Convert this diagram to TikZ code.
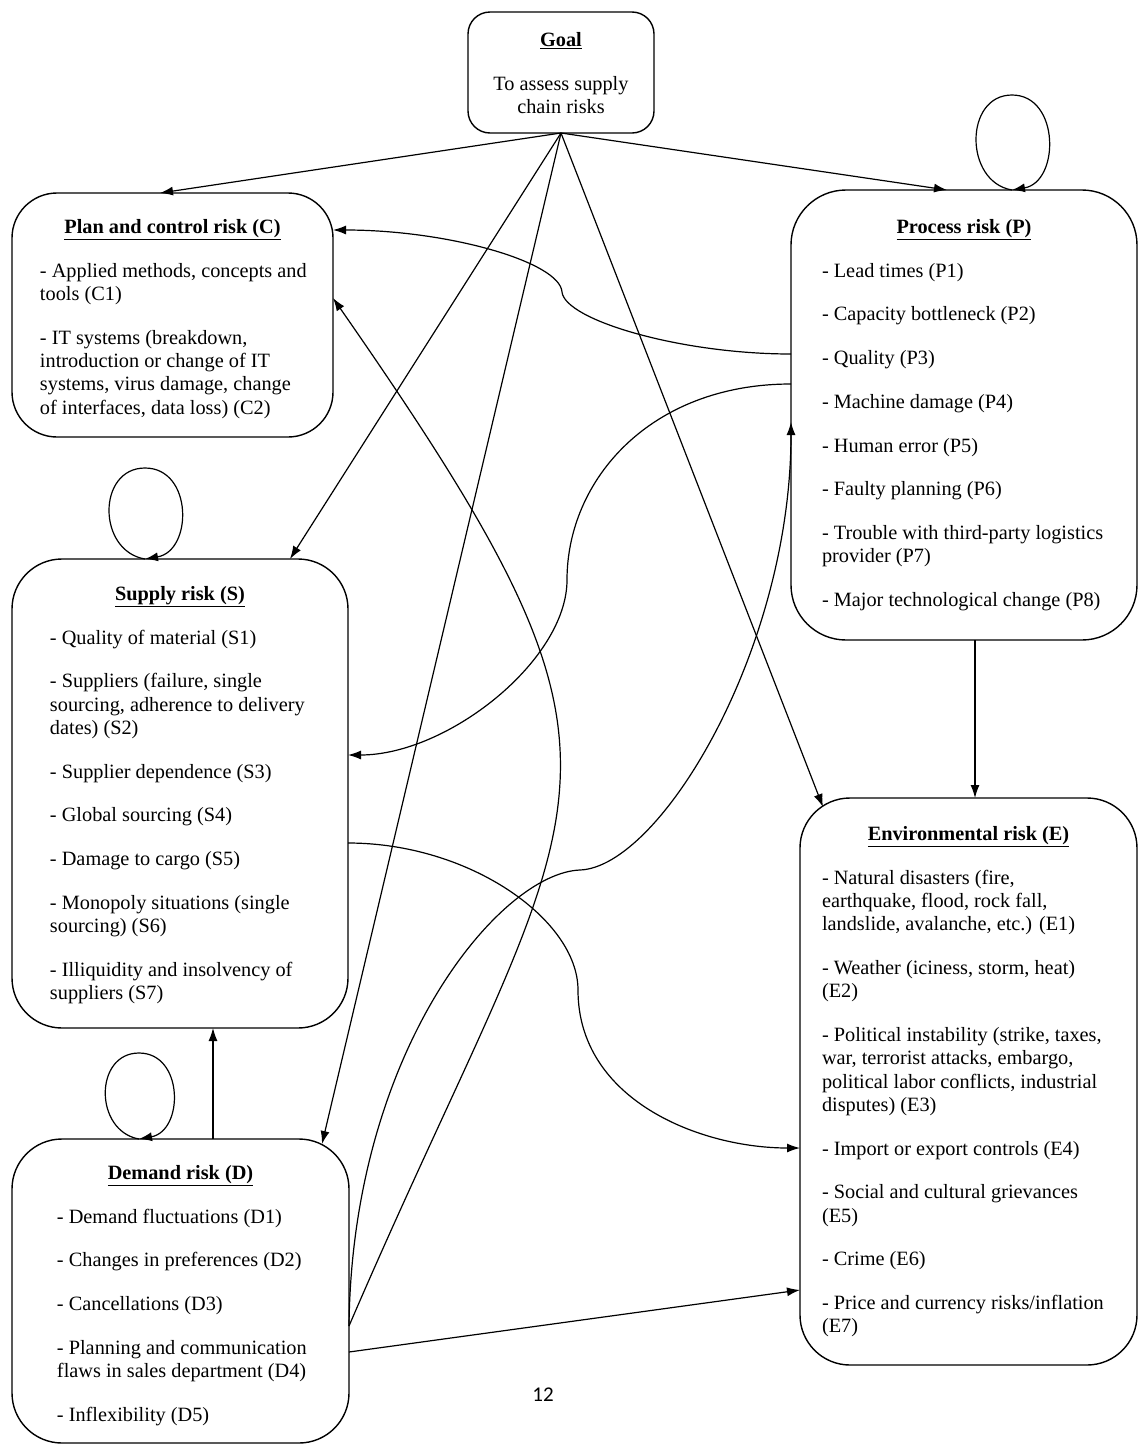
\documentclass[tikz,border=0pt]{standalone}
\usepackage{fontspec}
\setmainfont{Liberation Serif}
\newfontfamily\pagefont{Carlito}
\usetikzlibrary{arrows.meta,calc,positioning}

% box text: width, height, title baseline, left indent, title, items
\newcommand{\riskitems}[6]{%
  \vbox to #2{\hsize=#1\relax
    \vskip\dimexpr#3-\ht\strutbox\relax
    {\centering\strut\textbf{\underline{#5}}\par}
    \parskip=20.4pt\relax
    \raggedright\leftskip=#4\relax
    #6\par
    \vfil}}

\begin{document}
\begin{tikzpicture}[x=1pt, y=-1pt,
    riskbox/.style={draw, line width=1.4pt, rounded corners=50pt, inner sep=0pt, outer sep=0pt,
                    anchor=north west, font=\fontsize{20.3}{23.3}\selectfont},
    link/.style={-{Latex[length=13pt,width=9pt]}, line width=1.2pt}]

  \useasboundingbox (0,0) rectangle (1138,1446);

  \node[riskbox, rounded corners=22pt] (goal) at (468,12)
    {\riskitems{186pt}{121pt}{34.5pt}{0pt}{Goal}{{\centering To assess supply\\ chain risks\par}}};

  \node[riskbox, rounded corners=45pt] (C) at (12,193)
    {\riskitems{321pt}{244pt}{40.5pt}{28pt}{Plan and control risk (C)}{%
      - Applied methods, concepts and\\ tools (C1)\par
      - IT systems (breakdown,\\ introduction or change of IT\\ systems, virus damage, change\\ of interfaces, data loss) (C2)}};

  \node[riskbox, rounded corners=55pt] (P) at (791,190)
    {\riskitems{346pt}{450pt}{43.5pt}{31pt}{Process risk (P)}{%
      - Lead times (P1)\par
      - Capacity bottleneck (P2)\par
      - Quality (P3)\par
      - Machine damage (P4)\par
      - Human error (P5)\par
      - Faulty planning (P6)\par
      - Trouble with third-party logistics\\ provider (P7)\par
      - Major technological change (P8)}};

  \node[riskbox] (S) at (12,559)
    {\riskitems{336pt}{469pt}{41.5pt}{38pt}{Supply risk (S)}{%
      - Quality of material (S1)\par
      - Suppliers (failure, single\\ sourcing, adherence to delivery\\ dates) (S2)\par
      - Supplier dependence (S3)\par
      - Global sourcing (S4)\par
      - Damage to cargo (S5)\par
      - Monopoly situations (single\\ sourcing) (S6)\par
      - Illiquidity and insolvency of\\ suppliers (S7)}};

  \node[riskbox] (D) at (12,1139)
    {\riskitems{337pt}{304pt}{40.5pt}{45pt}{Demand risk (D)}{%
      - Demand fluctuations (D1)\par
      - Changes in preferences (D2)\par
      - Cancellations (D3)\par
      - Planning and communication\\ flaws in sales department (D4)\par
      - Inflexibility (D5)}};

  \node[riskbox] (E) at (800,798)
    {\riskitems{337pt}{567pt}{42.5pt}{22pt}{Environmental risk (E)}{%
      - Natural disasters (fire,\\ earthquake, flood, rock fall,\\ landslide, avalanche, etc.) (E1)\par
      - Weather (iciness, storm, heat)\\ (E2)\par
      - Political instability (strike, taxes,\\ war, terrorist attacks, embargo,\\ political labor conflicts, industrial\\ disputes) (E3)\par
      - Import or export controls (E4)\par
      - Social and cultural grievances\\ (E5)\par
      - Crime (E6)\par
      - Price and currency risks/inflation\\ (E7)}};

  \node[font=\pagefont\fontsize{21}{25}\selectfont] (pagenum) at (543,1395) {12};

  \coordinate (ploop) at ($(P.north west)+(221,0)$);
  \coordinate (sloop) at ($(S.north west)+(133,0)$);
  \coordinate (dloop) at ($(D.north west)+(127,0)$);

  % goal
  \draw[link] (goal.south) -- ($(C.north west)+(148,0)$);
  \draw[link] (goal.south) -- ($(P.north west)+(156,0)$);
  \draw[link] (goal.south) -- ($(S.north west)+(278,0)$);
  \draw[link] (goal.south) -- ($(D.north west)+(310,5)$);
  \draw[link] (goal.south) -- ($(E.north west)+(23,9)$);

  % self loops
  \draw[link] (ploop) .. controls +(-48,-8) and +(-48,0) .. ++(0,-95)
              .. controls +(48,0) and +(48,-8) .. (ploop);
  \draw[link] (sloop) .. controls +(-48,-8) and +(-48,0) .. ++(0,-91)
              .. controls +(48,0) and +(48,-8) .. (sloop);
  \draw[link] (dloop) .. controls +(-45,-8) and +(-45,0) .. ++(0,-86)
              .. controls +(45,0) and +(45,-8) .. (dloop);

  % between risks
  \draw[link] ($(P.north west)+(0,164)$) .. controls +(-111,0) and +(3,28) .. ++(-229,-62)
              .. controls +(-2,-30) and +(115,0) .. ($(C.north east)+(0,37)$);
  \draw[link] ($(P.north west)+(0,194)$) .. controls +(-141,0) and +(0,-100) .. ++(-224,196)
              .. controls +(0,80) and +(100,0) .. ($(S.north east)+(0,196)$);
  \draw[link] ($(S.north east)+(0,284)$) .. controls +(122,0) and +(0,-70) .. ++(230,147)
              .. controls +(0,110) and +(-100,0) .. ($(E.north west)+(0,350)$);
  \draw[link] ($(D.north east)+(0,187)$) .. controls +(237,-551) and +(343,493) .. ($(C.north east)+(0,105)$);
  \draw[link] ($(D.north east)+(0,187)$) .. controls +(3,-276) and +(-80,3) .. ++(231,-456)
              .. controls +(80,-3) and +(0,228) .. ($(P.north west)+(0,232)$);
  \draw[link] ($(D.north east)+(0,213)$) -- ($(E.north west)+(0,492)$);
  \draw[link] ($(P.south west)+(184,0)$) -- ($(E.north west)+(175,0)$);
  \draw[link] ($(D.north west)+(201,0)$) -- ($(S.south west)+(201,0)$);

\end{tikzpicture}
\end{document}
